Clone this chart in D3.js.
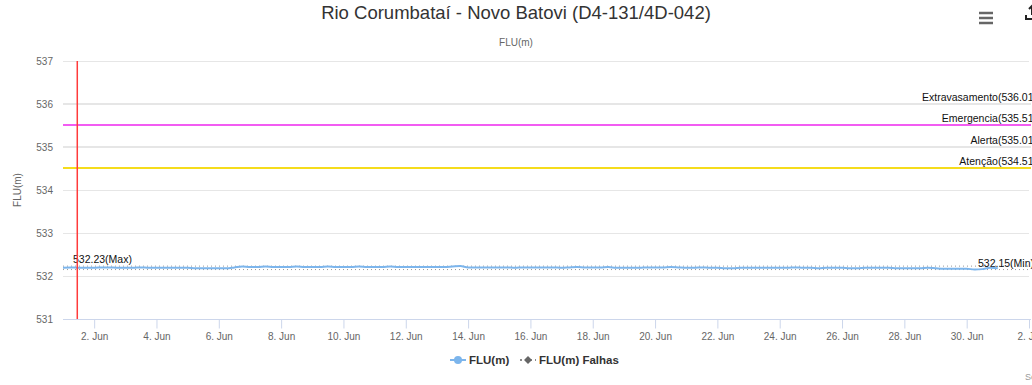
<!DOCTYPE html>
<html>
<head>
<meta charset="utf-8">
<script src="https://cdn.jsdelivr.net/npm/d3@7"></script>
<style>
  html, body { margin: 0; padding: 0; background: #fff; overflow: hidden; }
  svg { display: block; }
  text { font-family: "Liberation Sans", Arial, sans-serif; }
</style>
</head>
<body>
<svg id="chart" width="1032" height="385"></svg>
<script>
// Level readings every 6 hours, starting 1 June 00:00 UTC
const seriesStart = "2021-06-01T00:00:00Z";
const seriesStepHours = 6;
const fluValues = [
  532.19, 532.20, 532.19, 532.19,
  532.19, 532.20, 532.20, 532.19,
  532.19, 532.19, 532.20, 532.19,
  532.19, 532.19, 532.19, 532.19,
  532.19, 532.18, 532.18, 532.18,
  532.18, 532.18, 532.20, 532.22,
  532.21, 532.21, 532.22, 532.21,
  532.21, 532.21, 532.22, 532.21,
  532.21, 532.21, 532.22, 532.21,
  532.21, 532.21, 532.22, 532.21,
  532.21, 532.21, 532.22, 532.21,
  532.21, 532.21, 532.21, 532.21,
  532.21, 532.21, 532.22, 532.23,
  532.20, 532.20, 532.20, 532.20,
  532.20, 532.20, 532.19, 532.20,
  532.20, 532.20, 532.20, 532.20,
  532.19, 532.20, 532.21, 532.20,
  532.20, 532.20, 532.21, 532.19,
  532.19, 532.19, 532.19, 532.20,
  532.20, 532.20, 532.21, 532.20,
  532.19, 532.19, 532.20, 532.19,
  532.19, 532.18, 532.18, 532.19,
  532.19, 532.19, 532.19, 532.19,
  532.19, 532.19, 532.20, 532.19,
  532.19, 532.18, 532.19, 532.19,
  532.19, 532.18, 532.18, 532.19,
  532.19, 532.19, 532.19, 532.18,
  532.18, 532.18, 532.18, 532.19,
  532.18, 532.17, 532.17, 532.17,
  532.17, 532.15, 532.16, 532.19,
  532.18
];

// Alarm thresholds
const thresholdNames = ["Extravasamento", "Emergencia", "Alerta", "Atenção"];
const thresholdValues = [536.01, 535.51, 535.01, 534.51];
const thresholdColors = ["#e6e6e6", "#f25cf2", "#e6e6e6", "#f5dc1c"];

// Axis definitions
const xDomain = ["2021-06-01T00:00:00Z", "2021-07-02T00:00:00Z"];
const xTickDates = ["2021-06-02", "2021-06-04", "2021-06-06", "2021-06-08", "2021-06-10",
  "2021-06-12", "2021-06-14", "2021-06-16", "2021-06-18", "2021-06-20", "2021-06-22",
  "2021-06-24", "2021-06-26", "2021-06-28", "2021-06-30", "2021-07-02"];
const yDomain = [531, 537];
const yTickValues = [531, 532, 533, 534, 535, 536, 537];
const markerDate = "2021-06-01T11:00:00Z";

const titleText = "Rio Corumbataí - Novo Batovi (D4-131/4D-042)";
const subtitleText = "FLU(m)";
const yTitleText = "FLU(m)";
const legendNames = ["FLU(m)", "FLU(m) Falhas"];

const svg = d3.select("#chart");
const plot = { left: 63, right: 1029, top: 61, bottom: 319 };

const x = d3.scaleUtc().domain(xDomain.map(d => new Date(d))).range([plot.left, plot.right]);
const y = d3.scaleLinear().domain(yDomain).range([plot.bottom, plot.top]);

const t0 = new Date(seriesStart).getTime();
const points = fluValues.map((v, i) => ({ t: new Date(t0 + i * seriesStepHours * 3600e3), v }));
const vMax = d3.max(fluValues), vMin = d3.min(fluValues);

// Title and subtitle
svg.append("text").attr("x", 516).attr("y", 19).attr("text-anchor", "middle")
  .attr("font-size", 18.5).attr("fill", "#333").text(titleText);
svg.append("text").attr("x", 516).attr("y", 46).attr("text-anchor", "middle")
  .attr("font-size", 10).attr("fill", "#666").text(subtitleText);

// Horizontal grid
svg.append("g").selectAll("line").data(yTickValues).join("line")
  .attr("x1", plot.left).attr("x2", plot.right)
  .attr("y1", d => Math.round(y(d)) + 0.5).attr("y2", d => Math.round(y(d)) + 0.5)
  .attr("stroke", "#e6e6e6");

// Y axis labels
const yAxis = d3.axisLeft(y).tickValues(yTickValues).tickSize(0).tickPadding(10).tickFormat(d3.format("d"));
const gy = svg.append("g").attr("transform", `translate(${plot.left},0)`).call(yAxis);
gy.select(".domain").remove();
gy.selectAll("text").attr("font-size", 10).attr("fill", "#666")
  .style("font-family", "'Liberation Sans', Arial, sans-serif");

svg.append("text").attr("transform", `translate(21,${(plot.top + plot.bottom) / 2}) rotate(-90)`)
  .attr("text-anchor", "middle").attr("font-size", 10).attr("fill", "#666").text(yTitleText);

// X axis
const xAxis = d3.axisBottom(x).tickValues(xTickDates.map(d => new Date(d + "T00:00:00Z")))
  .tickSize(9).tickPadding(4).tickFormat(d3.utcFormat("%-d. %b"));
const gx = svg.append("g").attr("transform", `translate(0,${Math.round(plot.bottom) + 0.5})`).call(xAxis);
gx.select(".domain").attr("stroke", "#ccd6eb").attr("d", `M${plot.left},0H${plot.right + 2}`);
gx.selectAll(".tick line").attr("stroke", "#ccd6eb");
gx.selectAll("text").attr("font-size", 10).attr("fill", "#666")
  .style("font-family", "'Liberation Sans', Arial, sans-serif");

// Threshold plot lines
const thr = svg.append("g");
thresholdValues.forEach((v, i) => {
  const yy = Math.round(y(v));
  thr.append("line").attr("x1", plot.left).attr("x2", plot.right + 2)
    .attr("y1", yy).attr("y2", yy).attr("stroke", thresholdColors[i]).attr("stroke-width", 2);
  thr.append("text").attr("x", 1037).attr("y", yy - 3).attr("text-anchor", "end")
    .attr("font-size", 10.5).attr("fill", "#111").text(`${thresholdNames[i]}(${v.toFixed(2)})`);
});

// Max / min plot lines
const mm = svg.append("g");
[[vMax, "Max"], [vMin, "Min"]].forEach(([v, name]) => {
  const yy = y(v);
  mm.append("line").attr("x1", plot.left).attr("x2", plot.right + 2)
    .attr("y1", yy).attr("y2", yy).attr("stroke", "#999").attr("stroke-width", 1)
    .attr("stroke-dasharray", "1,3");
});
mm.append("text").attr("x", 73).attr("y", y(vMax) - 3).attr("font-size", 10.5).attr("fill", "#111")
  .text(`${vMax.toFixed(2)}(Max)`);
mm.append("text").attr("x", 978).attr("y", y(vMin) - 3).attr("font-size", 10.5).attr("fill", "#111")
  .text(`${vMin.toFixed(2)}(Min)`);

// Level series
const line = d3.line().x(d => x(d.t)).y(d => y(d.v)).curve(d3.curveMonotoneX);
svg.append("path").datum(points).attr("d", line).attr("fill", "none")
  .attr("stroke", "#7cb5ec").attr("stroke-width", 2).attr("stroke-linejoin", "round");

// Vertical red marker
svg.append("line").attr("x1", x(new Date(markerDate))).attr("x2", x(new Date(markerDate)))
  .attr("y1", plot.top).attr("y2", plot.bottom).attr("stroke", "#ff3b3b").attr("stroke-width", 1.5);

// Legend
const lg = svg.append("g").attr("transform", "translate(0,360)");
lg.append("line").attr("x1", 450).attr("x2", 466).attr("y1", 0).attr("y2", 0)
  .attr("stroke", "#7cb5ec").attr("stroke-width", 2);
lg.append("circle").attr("cx", 458).attr("cy", 0).attr("r", 4).attr("fill", "#7cb5ec");
lg.append("text").attr("x", 469).attr("y", 4).attr("font-size", 11.5).attr("font-weight", "bold")
  .attr("fill", "#333").text(legendNames[0]);
lg.append("line").attr("x1", 520).attr("x2", 536).attr("y1", 0).attr("y2", 0)
  .attr("stroke", "#666").attr("stroke-width", 1.5).attr("stroke-dasharray", "2,3");
lg.append("path").attr("d", d3.symbol(d3.symbolDiamond2, 40)()).attr("transform", "translate(528,0)")
  .attr("fill", "#666");
lg.append("text").attr("x", 539).attr("y", 4).attr("font-size", 11.5).attr("font-weight", "bold")
  .attr("fill", "#333").text(legendNames[1]);

// Context menu icon
const menu = svg.append("g").attr("transform", "translate(979,12)");
[0, 5, 10].forEach(o => menu.append("line").attr("x1", 0).attr("x2", 14).attr("y1", o + 1).attr("y2", o + 1)
  .attr("stroke", "#666").attr("stroke-width", 2.5));
// Export icon (partially off the edge)
const exp = svg.append("g").attr("transform", "translate(1026,6)");
exp.append("path").attr("d", "M0,9 L0,13 L12,13 L12,9").attr("fill", "none").attr("stroke", "#222").attr("stroke-width", 2);
exp.append("path").attr("d", "M6,0 L6,9 M3,3 L6,0 L9,3").attr("fill", "none").attr("stroke", "#222").attr("stroke-width", 2);

// Credits
svg.append("text").attr("x", 1025).attr("y", 380).attr("font-size", 9).attr("fill", "#999").text("Source");
</script>
</body>
</html>
